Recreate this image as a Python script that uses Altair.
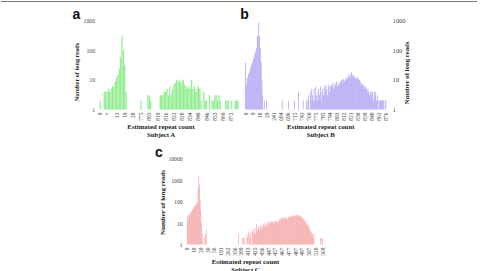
import altair as alt
import pandas as pd

# ---------------- Subject A ----------------
a_cats = ([0, 2, 3, 4, 5, 6] + list(range(7, 20)) +
          [20, 21, 22, 24, 26, 28, 33, 41, 120, 530, 702,
           775, 781, 789, 795, 799, 801, 803, 804, 805, 806, 807, 809] +
          list(range(810, 847)) +
          [847, 848, 849, 850, 852, 853, 854, 855, 856, 857, 858, 860,
           862, 864, 866, 868, 870, 872, 873, 874, 876, 878, 881])
a_counts = ([2, 0, 0, 4, 4, 4, 5, 4, 5, 6] +
            [6, 9, 12, 15, 24, 60, 310, 100, 32, 4] +
            [0, 0, 0, 0, 0, 0, 0, 0, 0, 0] +
            [2, 0, 0, 0, 0, 3, 3, 2, 0, 0] +
            [0, 0, 0, 0, 3, 3, 3, 4, 4, 5] +
            [3, 6, 3, 5, 7, 8, 10, 9, 10, 8] +
            [9, 10, 7, 6, 5, 6, 5, 10, 5, 6] +
            [4, 5, 6, 5, 2, 0, 4, 2, 2, 0] +
            [3, 0, 2, 2, 3, 3, 2, 3, 2, 0] +
            [0, 0, 2, 2, 2, 0, 2, 0, 0, 2] +
            [2, 2])
a_labels = ["0", "7", "13", "19", "28", "775", "803", "810", "816", "822",
            "828", "834", "840", "846", "853", "860", "872"]

# ---------------- Subject B ----------------
b_cats = (list(range(0, 25)) + [26, 27, 29] +
          [33, 38, 45, 61, 97, 130, 176, 212, 241] +
          [302, 389, 455, 512, 560, 611, 648, 671, 684] +
          [685, 686, 688, 689, 690, 692, 693, 694, 696] +
          [698, 700, 702, 705, 707, 709, 711, 713, 715] +
          [718, 721, 724, 728, 731, 734, 737, 740, 743] +
          [745, 747, 749, 751, 753, 755, 757, 758, 760] +
          [762, 764, 766, 768, 769, 771, 772, 773, 775] +
          [776, 777, 778, 779, 780, 782, 783, 784] +
          list(range(785, 849)) +
          [849, 850, 852, 854, 855, 857, 859, 861, 863] +
          [864, 866, 867, 869, 870, 872, 873, 875, 876])
b_counts = ([38, 7, 11, 12, 16, 19, 24, 28, 33, 41] +
            [50, 60, 75, 90, 120, 290, 300, 870, 290, 117] +
            [40, 10, 3, 0, 2, 0, 0, 2, 0, 0] +
            [0, 0, 0, 0, 0, 0, 0, 0, 0, 0] +
            [0, 0, 0, 0, 0, 0, 0, 2, 0, 0] +
            [0, 0, 0, 0, 0, 2, 0, 0, 0, 0] +
            [0, 0, 0, 2, 0, 0, 0, 0, 4, 0] +
            [0, 0, 0, 0, 2, 0, 0, 0, 2, 0] +
            [2, 3] +
            [0, 4, 2, 5, 3, 2, 5, 2] +
            [6, 3, 2, 4, 5, 3, 6, 2, 4, 5] +
            [3, 6, 4, 7, 5, 3, 6, 7, 4, 6] +
            [7, 6, 8, 5, 7, 6, 8, 9, 6, 7] +
            [8, 7, 9, 10, 8, 11, 10, 9, 11, 10] +
            [12, 11, 14, 12, 16, 13, 18, 14, 12, 15] +
            [13, 11, 12, 10, 12, 11, 10, 9, 8, 7] +
            [7, 6, 7, 5, 6, 5, 4, 5, 4, 3] +
            [4, 4, 3, 4, 2, 4, 3, 4, 2, 3] +
            [2, 0, 2, 2, 2, 2, 2, 2, 0, 2, 2])
b_labels = ["0", "9", "18", "29", "241", "684", "696", "715", "743", "760", "775",
            "785", "794", "803", "812", "821", "830", "839", "848", "863", "876"]

# ---------------- Subject C ----------------
c_cats = (list(range(0, 31)) +
          [31, 32, 33, 34, 36, 38, 41, 45, 50, 56] +
          [62, 70, 81, 95, 110, 128, 146, 163, 178, 191] +
          [198, 205, 213, 221, 229, 237, 244, 250, 256, 262] +
          [270, 279, 289, 298, 308, 318, 328, 338, 347, 356] +
          [361, 366, 370, 375, 379, 384, 388, 392, 396, 399] +
          [400, 401, 403, 404, 406, 407, 409, 410, 412, 413] +
          [414, 415, 416, 418, 419, 420, 422, 423, 424, 425] +
          [426, 427, 428, 429, 430, 432, 433, 434, 435, 436] +
          [437, 438, 439, 440, 441, 443, 444, 445, 446] +
          list(range(447, 508)) +
          [508, 509, 510, 512, 513, 515, 516, 517, 519, 520] +
          [523, 527, 531, 536, 541, 548, 554, 559, 564, 569])
c_counts = ([25, 12, 20, 24, 28, 30, 34, 38, 42, 48] +
            [55, 60, 66, 72, 80, 95, 400, 1480, 600, 110] +
            [40, 10, 3, 0, 0, 2, 0, 3, 5, 0, 0] +
            [0] * 45 + [3, 0, 0, 0] +
            [0, 2, 0, 2, 2, 0, 0, 0, 3, 2] +
            [4, 0, 3, 2, 4, 0, 4, 5, 3, 4] +
            [6, 3, 9, 4, 5, 7, 6, 4, 7, 5] +
            [8, 6, 9, 7, 10, 8, 6, 9, 11, 8] +
            [10, 12, 9, 11, 13, 10, 12, 9, 11, 13] +
            [12, 10, 13, 11, 9, 12, 14, 16, 13, 17] +
            [15, 18, 16, 19, 14, 17, 16, 18, 15, 17] +
            [19, 21, 18, 20, 22, 19, 23, 21, 20, 24] +
            [22, 25, 21, 23, 20, 24, 22, 19, 21, 18] +
            [16, 17, 14, 12, 15, 11, 9, 10, 7, 8] +
            [6, 5, 4, 3, 4, 3, 2, 3, 0, 0] +
            [0, 0, 0, 0, 0, 0, 0, 2, 0, 2, 2])
c_labels = ["0", "10", "20", "30", "56", "191", "262", "356", "399", "413", "425",
            "436", "447", "457", "467", "477", "487", "497", "507", "520", "569"]

SERIF = "Liberation Serif"
SANS = "Liberation Sans"


def panel(cats, counts, labels, color, ymax, yvals, width, height, letter, letter_dx,
          subject, yorient, ylab_size, ytitle_size, ytitle_x, ytitle_y,
          xtitle_x, xtitle_y, ylab_pad):
    df = pd.DataFrame({"cat": [str(c) for c in cats], "n": counts})
    bars = alt.Chart(df).transform_filter("datum.n > 0").mark_bar(color=color).encode(
        x=alt.X("cat:N", sort=None,
                scale=alt.Scale(domain=[str(c) for c in cats], paddingInner=0.12, paddingOuter=0),
                axis=alt.Axis(values=labels, labelAngle=270, labelFont=SERIF, labelFontSize=5.5,
                              labelColor="#444", labelPadding=2.5, labelOverlap=False,
                              ticks=False, tickSize=0, domain=False, grid=False,
                              title=["Estimated repeat count", subject], titleFont=SERIF,
                              titleFontWeight="bold", titleFontSize=6.8, titleColor="#222",
                              titleLineHeight=8, titleX=xtitle_x, titleY=xtitle_y,
                              titleAlign="center", titleBaseline="alphabetic")),
        y=alt.Y("n:Q", scale=alt.Scale(type="log", domain=[1, ymax], nice=False),
                axis=alt.Axis(values=yvals, format="d", orient=yorient, labelFont=SERIF,
                              labelFontSize=ylab_size, labelColor="#444", labelPadding=ylab_pad,
                              labelFlush=False, ticks=False, tickSize=0, domain=False, grid=False,
                              title="Number of long reads", titleFont=SERIF, titleFontWeight="bold",
                              titleFontSize=ytitle_size, titleColor="#222", titleAngle=270,
                              titleX=ytitle_x, titleY=ytitle_y, titleAlign="center",
                              titleBaseline="middle")),
        y2=alt.datum(1),
    )
    tag = alt.Chart(pd.DataFrame({"t": [letter]})).mark_text(
        font=SANS, fontWeight="bold", fontSize=14, color="#111", align="left",
        baseline="alphabetic"
    ).encode(text="t:N", x=alt.value(letter_dx), y=alt.value(-1.7))
    return alt.layer(bars, tag).properties(width=width, height=height)


def spacer(w):
    return alt.Chart(pd.DataFrame({"z": [0]})).mark_rule(strokeWidth=0, opacity=0).encode(
        x=alt.value(0), x2=alt.value(0), y=alt.value(0)
    ).properties(width=w, height=1)


pa = panel(a_cats, a_counts, a_labels, "#8fec8f", 1000, [1, 10, 100, 1000], 139, 89,
           "a", -27, "Subject A", "left", 5.8, 6.3, -23, 51, 61, 19, 5)
pb = panel(b_cats, b_counts, b_labels, "#a89cf2", 1000, [1, 10, 100, 1000], 141, 89,
           "b", -5, "Subject B", "right", 6.4, 6.8, 20, 52, 75, 19, 6)
pc = panel(c_cats, c_counts, c_labels, "#f39b9b", 10000, [1, 10, 100, 1000, 10000], 136, 86,
           "c", -32, "Subject C", "left", 5.6, 7.0, -25, 43.5, 58, 19, 5)

# grey frame line along the top edge of the figure
frame = alt.Chart(pd.DataFrame({"z": [0]})).mark_rule(color="#777", strokeWidth=1).encode(
    x=alt.value(0), x2=alt.value(476), y=alt.value(0)
).properties(width=476, height=1)

top = alt.hconcat(spacer(91.7), pa, pb, spacing=6.6, bounds="flush")
crow = alt.hconcat(spacer(185.7), pc, spacing=0, bounds="flush")
# nested flush rows report no height, so the spacing is the full row pitch
inner = alt.vconcat(top, crow, spacing=138, bounds="flush")
chart = alt.vconcat(frame, inner, spacing=18, bounds="flush").properties(
    padding={"left": 0, "top": 0.5, "right": 0, "bottom": 0},
    background="white",
).configure_view(stroke="transparent")

chart.save("out.html", embed_options={"renderer": "svg", "actions": False})
